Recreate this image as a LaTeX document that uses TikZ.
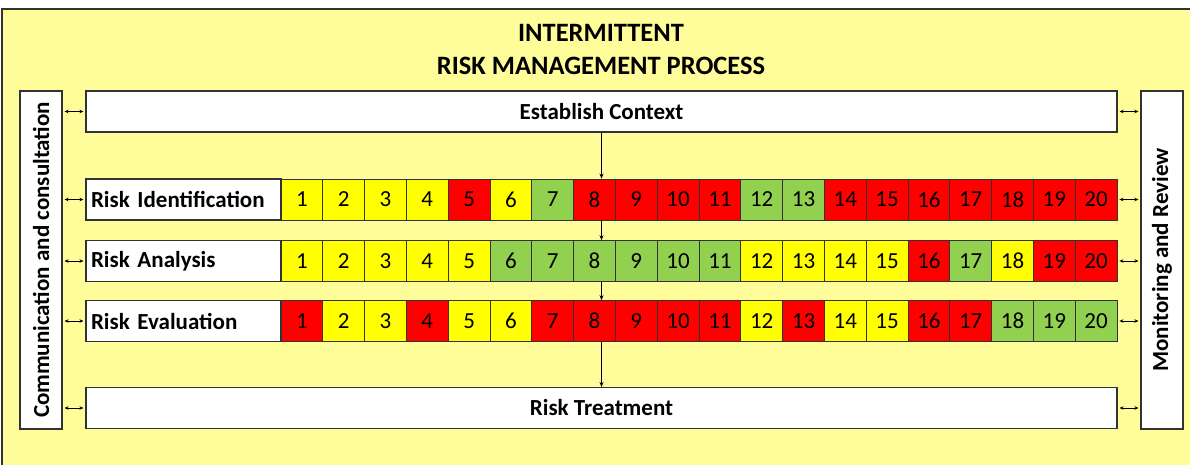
\documentclass[tikz,border=0pt]{standalone}
\usepackage{fontspec}
\setmainfont{Carlito}
\usetikzlibrary{arrows.meta, positioning}
\definecolor{panelyellow}{RGB}{255, 253, 153}
\definecolor{cY}{RGB}{255, 255, 0}
\definecolor{cR}{RGB}{255, 0, 0}
\definecolor{cG}{RGB}{146, 208, 80}
\definecolor{edgegray}{RGB}{50, 50, 50}

\tikzset{
  stagebox/.style={draw=edgegray, line width=1.1pt, fill=white, minimum height=41pt, inner sep=0pt, font=\fontsize{23}{27}\selectfont\bfseries},
  rowlabel/.style={stagebox, text width=185pt, minimum width=195pt, inner xsep=5pt, align=left},
  sidebox/.style={stagebox, rotate=90, minimum width=338pt, minimum height=42pt},
  cell/.style={draw=edgegray, line width=0.7pt, minimum width=41.8pt, minimum height=41pt, inner sep=0pt, font=\fontsize{23}{27}\selectfont},
  flow/.style={-{Stealth[length=5pt, width=4pt]}, line width=0.7pt},
  link/.style={{Stealth[length=4pt, width=3.5pt]}-{Stealth[length=4pt, width=3.5pt]}, line width=0.7pt, shorten <=2pt, shorten >=2pt}
}

\begin{document}
\begin{tikzpicture}[x=1pt, y=-1pt]
  \useasboundingbox (0,0) rectangle (1190,465);
  % background panel
  \draw[draw=edgegray, line width=1.1pt, fill=panelyellow] (2,9) rectangle (1200,475);
  \node[font=\fontsize{26.5}{33}\selectfont\bfseries, align=center] (title) at (601,50) {INTERMITTENT\\RISK MANAGEMENT PROCESS};

  % side boxes
  \node[sidebox] (comm) at (41,260) {Communication and consultation};
  \node[sidebox] (mon) at (1162,260) {Monitoring and Review};

  % stages
  \node[stagebox, minimum width=1031pt] (ctx) at (601.5,111.5) {Establish Context};
  \node[rowlabel] (ident) at (183.5,199.5) {Risk Identification};
  \node[rowlabel] (anal) at (183.5,261) {Risk Analysis};
  \node[rowlabel] (eval) at (183.5,321) {Risk Evaluation};
  \node[stagebox, minimum width=1031pt] (treat) at (601.5,408) {Risk Treatment};

  % rating cells
  \foreach \c [count=\i] in {Y,Y,Y,Y,R,Y,G,R,R,R,R,G,G,R,R,R,R,R,R,R}
    \node[cell, fill=c\c] (id\i) at ({281+41.8*(\i-0.5)},199.5) {\i};
  \foreach \c [count=\i] in {Y,Y,Y,Y,Y,G,G,G,G,G,G,Y,Y,Y,Y,R,G,Y,R,R}
    \node[cell, fill=c\c] (an\i) at ({281+41.8*(\i-0.5)},261) {\i};
  \foreach \c [count=\i] in {R,Y,Y,R,Y,Y,R,R,R,R,R,Y,R,Y,Y,R,R,G,G,G}
    \node[cell, fill=c\c] (ev\i) at ({281+41.8*(\i-0.5)},321) {\i};

  % flow down the middle
  \coordinate (idtop) at (ctx.south |- id1.north);
  \coordinate (idbot) at (ctx.south |- id1.south);
  \coordinate (antop) at (ctx.south |- an1.north);
  \coordinate (anbot) at (ctx.south |- an1.south);
  \coordinate (evtop) at (ctx.south |- ev1.north);
  \coordinate (evbot) at (ctx.south |- ev1.south);
  \draw[flow] (ctx.south) -- (idtop);
  \draw[flow] (idbot) -- (antop);
  \draw[flow] (anbot) -- (evtop);
  \draw[flow] (evbot) -- (treat.north);

  % links to the side boxes
  \foreach \s/\e in {ctx/ctx, ident/id20, anal/an20, eval/ev20, treat/treat} {
    \draw[link] (comm.south |- \s.west) -- (\s.west);
    \draw[link] (\e.east) -- (mon.north |- \e.east);
  }
\end{tikzpicture}
\end{document}
